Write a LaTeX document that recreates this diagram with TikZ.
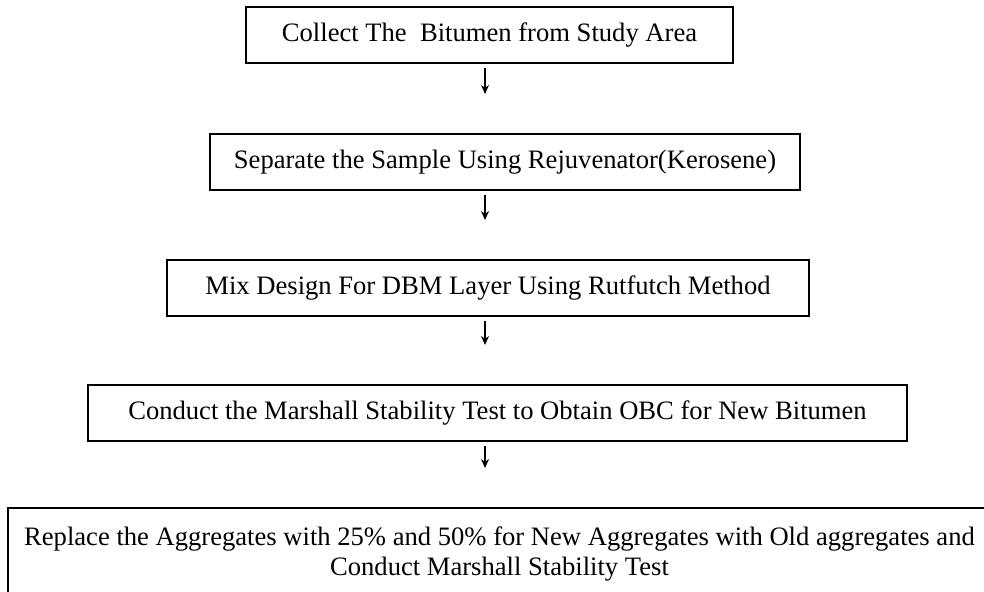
\documentclass[tikz,border=0pt]{standalone}
\usepackage{fontspec}
\setmainfont{Liberation Serif}
\usetikzlibrary{arrows.meta}

\begin{document}
\begin{tikzpicture}[
        x=0.5pt, y=-0.5pt,
        stepbox/.style={draw, line width=1pt, minimum height=28pt, inner sep=0pt,
          align=center, font=\fontsize{13.3}{15}\selectfont},
        flow/.style={-{Stealth[length=4.5pt, width=4pt]}, line width=0.6pt,
          shorten <=2pt, shorten >=19.5pt}
      ]
      \useasboundingbox (0,0) rectangle (984,592);
      \coordinate (ax) at (485,0);
      \node[stepbox, minimum width=243.5pt] (collect) at (489.5,35)
        {Collect The\ \ Bitumen from Study Area};
      \node[stepbox, minimum width=295pt] (separate) at (505,162)
        {Separate the Sample Using Rejuvenator(Kerosene)};
      \node[stepbox, minimum width=321pt] (mixdesign) at (488,288)
        {Mix Design For DBM Layer Using Rutfutch Method};
      \node[stepbox, minimum width=409.5pt] (marshall) at (497.5,413)
        {Conduct the Marshall Stability Test to Obtain OBC for New Bitumen};
      \node[stepbox, minimum width=491.5pt, minimum height=46pt] (replace) at (499.5,554)
        {Replace the Aggregates with 25\% and 50\% for New Aggregates with Old aggregates and\\
         Conduct Marshall Stability Test};
      \draw[flow] (collect.south -| ax) -- (separate.north -| ax);
      \draw[flow] (separate.south -| ax) -- (mixdesign.north -| ax);
      \draw[flow] (mixdesign.south -| ax) -- (marshall.north -| ax);
      \draw[flow] (marshall.south -| ax) -- (replace.north -| ax);
    \end{tikzpicture}
\end{document}
